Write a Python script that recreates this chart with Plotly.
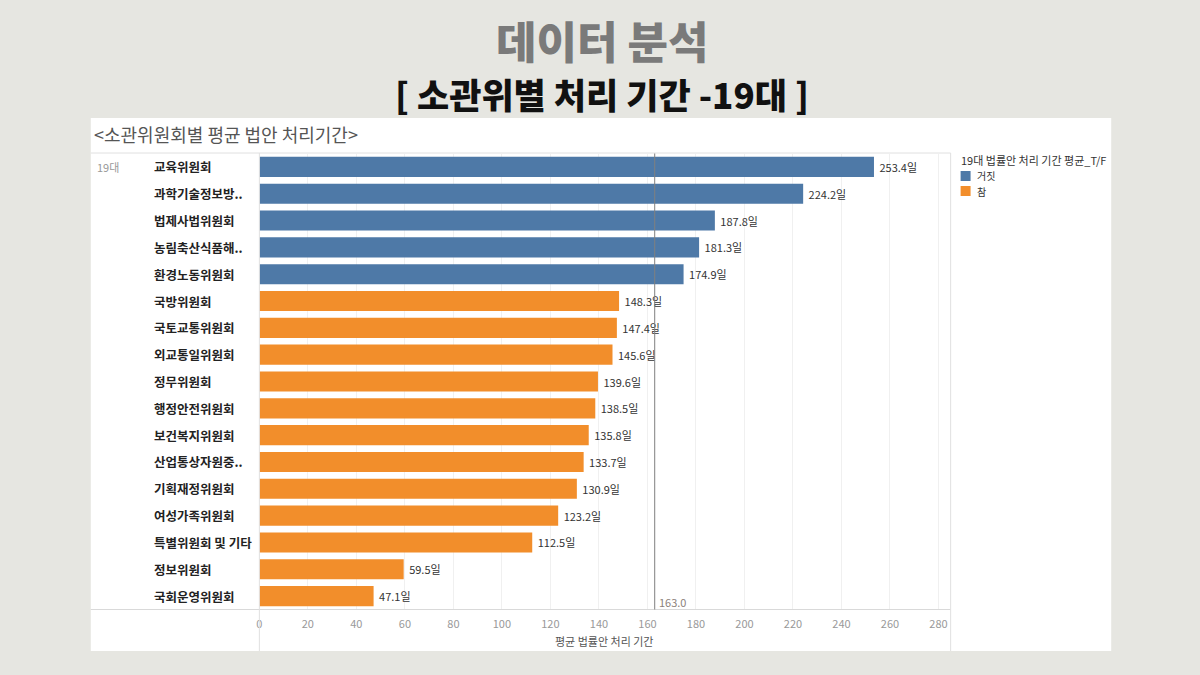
import plotly.graph_objects as go

committees = ["교육위원회", "과학기술정보방..", "법제사법위원회", "농림축산식품해..", "환경노동위원회",
              "국방위원회", "국토교통위원회", "외교통일위원회", "정무위원회", "행정안전위원회",
              "보건복지위원회", "산업통상자원중..", "기획재정위원회", "여성가족위원회",
              "특별위원회 및 기타", "정보위원회", "국회운영위원회"]
days = [253.4, 224.2, 187.8, 181.3, 174.9, 148.3, 147.4, 145.6, 139.6, 138.5,
        135.8, 133.7, 130.9, 123.2, 112.5, 59.5, 47.1]
tf = ["거짓"] * 5 + ["참"] * 12
average = 163.0
tick_vals = list(range(0, 281, 20))
colors = {"거짓": "#4e79a7", "참": "#f28e2b"}

W, H = 1200, 675
def px(x): return x / W
def py(y): return (H - y) / H

FONT = "Noto Sans CJK KR"
fig = go.Figure()
for grp in ["거짓", "참"]:
    ys = [c for c, g in zip(committees, tf) if g == grp]
    xs = [d for d, g in zip(days, tf) if g == grp]
    fig.add_trace(go.Bar(
        x=xs, y=ys, orientation="h", name=grp,
        marker=dict(color=colors[grp], line=dict(width=0)),
        width=0.75,
        text=[f" {v:.1f}일" for v in xs], textposition="outside",
        textfont=dict(size=11, color="#333333", family=FONT),
        cliponaxis=False, showlegend=False,
    ))

x0, x1 = px(257), px(950)
ytop, ybot = py(153.5), py(609.5)

shapes = [
    dict(type="rect", xref="paper", yref="paper", x0=px(88), x1=px(1111), y0=py(651), y1=py(118),
         fillcolor="white", line=dict(width=0), layer="below"),
    dict(type="line", xref="paper", yref="paper", x0=px(88), x1=px(950), y0=py(153), y1=py(153),
         line=dict(color="#e0e0e0", width=1)),
    dict(type="line", xref="paper", yref="paper", x0=px(88), x1=px(950), y0=py(609.5), y1=py(609.5),
         line=dict(color="#d9d9d9", width=1)),
    dict(type="line", xref="paper", yref="paper", x0=px(257), x1=px(257), y0=py(651), y1=py(153),
         line=dict(color="#e0e0e0", width=1)),
    dict(type="line", xref="paper", yref="paper", x0=px(950), x1=px(950), y0=py(651), y1=py(153),
         line=dict(color="#e0e0e0", width=1)),
    dict(type="line", xref="x", yref="paper", x0=average, x1=average, y0=ybot, y1=ytop,
         line=dict(color="#7f7f7f", width=1)),
    dict(type="rect", xref="paper", yref="paper", x0=px(960), x1=px(970), y0=py(181), y1=py(171),
         fillcolor=colors["거짓"], line=dict(width=0)),
    dict(type="rect", xref="paper", yref="paper", x0=px(960), x1=px(970), y0=py(196), y1=py(186),
         fillcolor=colors["참"], line=dict(width=0)),
]

annotations = [
    dict(text="데이터 분석", xref="paper", yref="paper", x=0.5, y=py(40), showarrow=False,
         font=dict(size=44, color="#7a7a7a", family=FONT, weight=900), xanchor="center", yanchor="middle"),
    dict(text="[ 소관위별 처리 기간 -19대 ]", xref="paper", yref="paper", x=0.5, y=py(93), showarrow=False,
         font=dict(size=35, color="#111111", family=FONT, weight=900), xanchor="center", yanchor="middle"),
    dict(text="&lt;소관위원회별 평균 법안 처리기간&gt;", xref="paper", yref="paper", x=px(89), y=py(134),
         showarrow=False, font=dict(size=18, color="#555555", family=FONT), xanchor="left", yanchor="middle"),
    dict(text="19대", xref="paper", yref="paper", x=px(92), y=py(167), showarrow=False,
         font=dict(size=11, color="#999999", family=FONT), xanchor="left", yanchor="middle"),
    dict(text=f"{average:.1f}", xref="x", yref="paper", x=average, y=py(602), showarrow=False, xshift=2,
         font=dict(size=11, color="#8c7f7a", family=FONT), xanchor="left", yanchor="middle"),
    dict(text="평균 법률안 처리 기간", xref="paper", yref="paper", x=px(603), y=py(641),
         showarrow=False, font=dict(size=11, color="#555555", family=FONT), xanchor="center", yanchor="middle"),
    dict(text="19대 법률안 처리 기간 평균_T/F", xref="paper", yref="paper", x=px(958), y=py(160),
         showarrow=False, font=dict(size=11, color="#333333", family=FONT), xanchor="left", yanchor="middle"),
    dict(text="거짓", xref="paper", yref="paper", x=px(974), y=py(176), showarrow=False,
         font=dict(size=10, color="#333333", family=FONT), xanchor="left", yanchor="middle"),
    dict(text="참", xref="paper", yref="paper", x=px(974), y=py(191), showarrow=False,
         font=dict(size=10, color="#333333", family=FONT), xanchor="left", yanchor="middle"),
]
for c in committees:
    annotations.append(dict(text=f"<b>{c}</b>", xref="paper", yref="y", x=px(149), y=c, showarrow=False,
                            font=dict(size=12.5, color="#222222", family=FONT), xanchor="left", yanchor="middle"))

fig.update_layout(
    width=W, height=H,
    margin=dict(l=0, r=0, t=0, b=0),
    paper_bgcolor="#e6e6e1", plot_bgcolor="white",
    barmode="overlay",
    shapes=shapes, annotations=annotations,
    font=dict(family=FONT),
    xaxis=dict(domain=[x0, x1], range=[0, 285], tickvals=tick_vals, showgrid=True,
               gridcolor="#f0f0f0", zeroline=False, showline=False,
               tickfont=dict(size=11, color="#999999"), ticks="", ticklabelstandoff=6,
               fixedrange=True),
    yaxis=dict(domain=[ybot, ytop], categoryorder="array", categoryarray=committees,
               showticklabels=False, showgrid=False, zeroline=False,
               autorange=False, range=[len(committees) - 0.5, -0.5]),
)

fig.write_html("out.html")
